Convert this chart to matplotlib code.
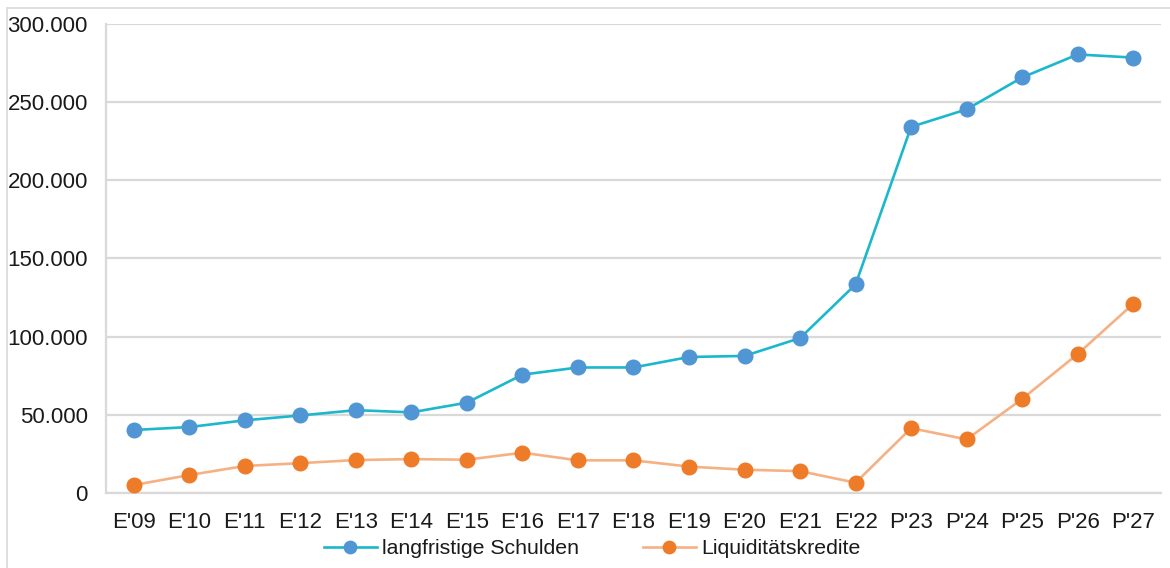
import matplotlib
matplotlib.use("Agg")
import matplotlib.pyplot as plt
from matplotlib.patches import Rectangle
from matplotlib.ticker import FuncFormatter

plt.rcParams['font.family'] = ['Liberation Sans', 'DejaVu Sans']

jahre = ["E'09", "E'10", "E'11", "E'12", "E'13", "E'14", "E'15", "E'16", "E'17", "E'18",
         "E'19", "E'20", "E'21", "E'22", "P'23", "P'24", "P'25", "P'26", "P'27"]
langfristig = [40300, 42200, 46500, 49600, 53000, 51600, 57800, 75700, 80300, 80300,
               87000, 87700, 99100, 133400, 234200, 245400, 265800, 280500, 278500]
liquiditaet = [5100, 11500, 17300, 19100, 21100, 21700, 21300, 25800, 20900, 20900,
               16900, 14900, 14000, 6600, 41500, 34300, 60200, 88900, 121000]

fig = plt.figure(figsize=(11.7, 5.68), dpi=100)
ax = fig.add_axes([0.0906, 0.132, 0.9017, 0.8258])

x = range(len(jahre))
ax.plot(x, langfristig, color='#1bb8cc', lw=1.9, marker='o', ms=10.5,
        mfc='#5096d4', mec='#5096d4', label='langfristige Schulden', zorder=3)
ax.plot(x, liquiditaet, color='#f5b183', lw=1.9, marker='o', ms=10.5,
        mfc='#ee7b27', mec='#ee7b27', label='Liquiditätskredite', zorder=3)

ax.set_xlim(-0.5, len(jahre) - 0.5)
ax.set_ylim(0, 300000)
ax.set_yticks(range(0, 300001, 50000))
ax.yaxis.set_major_formatter(FuncFormatter(lambda v, p: f"{int(v):,}".replace(",", ".")))
ax.set_xticks(list(x))
ax.set_xticklabels(jahre)
ax.tick_params(axis='both', length=0, labelsize=16, colors='#1a1a1a')
ax.tick_params(axis='y', pad=13)
ax.tick_params(axis='x', pad=14)

ax.grid(axis='y', color='#d9d9d9', lw=1.6)
ax.set_axisbelow(True)
for s in ['top', 'right']:
    ax.spines[s].set_visible(False)
for s in ['left', 'bottom']:
    ax.spines[s].set_color('#d9d9d9')
    ax.spines[s].set_linewidth(1.6)

leg = fig.legend(loc='center', bbox_to_anchor=(0.506, 0.034), ncol=2, frameon=False,
                 fontsize=15.3, handlelength=2.5, columnspacing=3.0, handletextpad=0.25,
                 borderpad=0.0, markerscale=0.85)
for t in leg.get_texts():
    t.set_color('#1a1a1a')

# outer frame
fig.patches.append(Rectangle((0.006, -0.05), 1.1, 1 - 8 / 568 + 0.05, transform=fig.transFigure,
                             fill=False, ec='#d9d9d9', lw=1.2))

fig.savefig('out.png', dpi=100)
